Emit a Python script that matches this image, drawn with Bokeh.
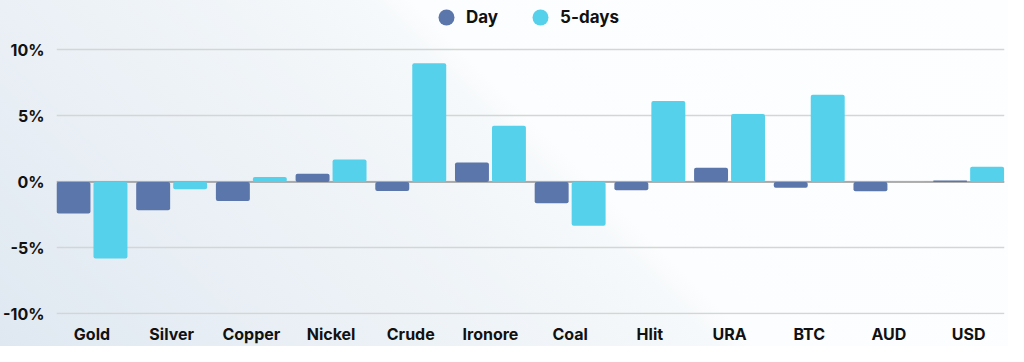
from bokeh.plotting import figure
from bokeh.models import (Range1d, FixedTicker, PrintfTickFormatter, Span, Legend,
                          LegendItem, ColumnDataSource)
from bokeh.embed import file_html
from bokeh.resources import INLINE

categories = ["Gold", "Silver", "Copper", "Nickel", "Crude", "Ironore", "Coal",
              "Hlit", "URA", "BTC", "AUD", "USD"]
day = [-2.4, -2.15, -1.45, 0.62, -0.68, 1.48, -1.62, -0.63, 1.07, -0.45, -0.7, 0.1]
five_days = [-5.8, -0.55, 0.37, 1.7, 9.0, 4.25, -3.33, 6.13, 5.15, 6.6, 0.03, 1.15]
y_ticks = [-10, -5, 0, 5, 10]
series_names = ["Day", "5-days"]

DAY_COLOR = "#5b76aa"
FIVE_COLOR = "#55d1eb"
FONT = "Inter"

idx = list(range(len(categories)))
src = ColumnDataSource(dict(
    xd=[i - 0.232 for i in idx],
    xf=[i + 0.232 for i in idx],
    day=day,
    five=five_days,
))

p = figure(width=1008, height=346, output_backend="svg", toolbar_location=None,
           x_range=Range1d(-0.445, 11.45), y_range=Range1d(-10.05, 13.75),
           min_border_left=55, min_border_right=4, min_border_top=0,
           min_border_bottom=31)
p.background_fill_alpha = 0
p.border_fill_alpha = 0
p.outline_line_color = None
p.styles = {"background": "linear-gradient(45deg, #dfe8f1 0%, #e9eff5 22%, #f2f6f9 45%, #f6f9fb 53%, #fcfdfe 56%, #fdfeff 100%)"}

p.ygrid.grid_line_color = "#d3d5d8"
p.ygrid.grid_line_width = 1.5
p.xgrid.grid_line_color = None
p.ygrid.ticker = FixedTicker(ticks=y_ticks)

zero = Span(location=0, dimension="width", line_color="#9a9a9a", line_width=1.5,
            level="underlay")
p.add_layout(zero)

r_day = p.vbar(x="xd", top="day", bottom=0, width=0.426, source=src,
               fill_color=DAY_COLOR, line_color=None, border_radius=2)
r_five = p.vbar(x="xf", top="five", bottom=0, width=0.426, source=src,
                fill_color=FIVE_COLOR, line_color=None, border_radius=2)

# legend markers (circles), not drawn in the plot area
leg_src = ColumnDataSource(dict(x=[float("nan")], y=[float("nan")]))
m_day = p.scatter(x="x", y="y", source=leg_src, marker="circle", size=15,
                  fill_color=DAY_COLOR, line_color=None)
m_five = p.scatter(x="x", y="y", source=leg_src, marker="circle", size=15,
                   fill_color=FIVE_COLOR, line_color=None)
legend = Legend(items=[LegendItem(label=series_names[0], renderers=[m_day]),
                       LegendItem(label=series_names[1], renderers=[m_five])],
                orientation="horizontal", location=(370, 277),
                border_line_color=None, background_fill_alpha=0,
                label_text_font=FONT, label_text_font_style="bold",
                label_text_font_size="17px", label_text_color="#111111",
                glyph_width=40, glyph_height=40, label_standoff=-3, spacing=22,
                padding=0, margin=0)
p.add_layout(legend)

p.xaxis.ticker = FixedTicker(ticks=idx)
p.xaxis.major_label_overrides = {i: c for i, c in zip(idx, categories)}
p.yaxis.ticker = FixedTicker(ticks=y_ticks)
p.yaxis.formatter = PrintfTickFormatter(format="%d%%")

for ax in (p.xaxis, p.yaxis):
    ax.axis_line_color = None
    ax.major_tick_line_color = None
    ax.minor_tick_line_color = None
    ax.major_tick_out = 0
    ax.major_tick_in = 0
    ax.minor_tick_out = 0
    ax.minor_tick_in = 0
    ax.major_label_text_font = FONT
    ax.major_label_text_font_style = "bold"
    ax.major_label_text_font_size = "16px"
    ax.major_label_text_color = "#111111"
p.xaxis.major_label_standoff = 9
p.yaxis.major_label_standoff = 12

open("out.html", "w").write(file_html(p, INLINE))
